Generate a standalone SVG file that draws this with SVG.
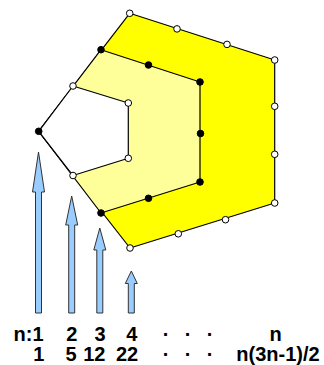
<svg xmlns="http://www.w3.org/2000/svg" width="324" height="365" viewBox="0 0 324 365">
<style>
.edge{stroke:#000;stroke-width:1.2;stroke-linejoin:round}
.w{fill:#fff;stroke:#000;stroke-width:1}
.b{fill:#000;stroke:#000;stroke-width:1}
.arr{fill:#99ccff;stroke:#333;stroke-width:1;stroke-linejoin:miter}
.t{font-family:"Liberation Sans",Arial,sans-serif;font-weight:bold;font-size:20px;fill:#000}
</style>
<rect width="324" height="365" fill="#fff"/>
<g id="pentagon4">
<polygon points="38.7,131.3 129.7,13.3 274.7,60 274.7,203 130,248" style="fill:#ffff00" class="edge"/>
</g>
<g id="pentagon3">
<polygon points="38.7,131.3 101,49.7 200,82 200,182 101,213" style="fill:#ffff99" class="edge"/>
</g>
<g id="pentagon2">
<polygon points="38.7,131.3 73,86 128.3,103 128.3,158.3 73,175.5" style="fill:#ffffff" class="edge"/>
</g>
<g id="dots4">
<circle class="w" cx="129.7" cy="13.3" r="3.3"/>
<circle class="w" cx="177" cy="28.9" r="3.3"/>
<circle class="w" cx="227" cy="44.4" r="3.3"/>
<circle class="w" cx="274.7" cy="60" r="3.3"/>
<circle class="w" cx="274.7" cy="106.3" r="3.3"/>
<circle class="w" cx="274.7" cy="154.3" r="3.3"/>
<circle class="w" cx="274.7" cy="203" r="3.3"/>
<circle class="w" cx="225.5" cy="219.7" r="3.3"/>
<circle class="w" cx="178.3" cy="233.8" r="3.3"/>
<circle class="w" cx="130" cy="248" r="3.3"/>
</g>
<g id="dots3">
<circle class="b" cx="101" cy="49.7" r="3.3"/>
<circle class="b" cx="148.5" cy="65" r="3.3"/>
<circle class="b" cx="200" cy="82" r="3.3"/>
<circle class="b" cx="200.5" cy="133.5" r="3.3"/>
<circle class="b" cx="200" cy="182" r="3.3"/>
<circle class="b" cx="148.5" cy="198.3" r="3.3"/>
<circle class="b" cx="101" cy="213" r="3.3"/>
</g>
<g id="dots2">
<circle class="w" cx="73" cy="86" r="3.3"/>
<circle class="w" cx="128.3" cy="103" r="3.3"/>
<circle class="w" cx="128.3" cy="158.3" r="3.3"/>
<circle class="w" cx="73" cy="175.5" r="3.3"/>
<circle class="b" cx="38.7" cy="131.3" r="3.3"/>
</g>
<g id="arrows">
<polygon class="arr" points="38.5,152 44.5,192 41.5,192 41.5,313 35.5,313 35.5,192 32.5,192"/>
<polygon class="arr" points="71.7,196 77.7,225 74.7,225 74.7,313 68.7,313 68.7,225 65.7,225"/>
<polygon class="arr" points="99.8,228 105.8,250 102.8,250 102.8,313 96.8,313 96.8,250 93.8,250"/>
<polygon class="arr" points="131.3,271 137.3,283.5 134.3,283.5 134.3,313 128.3,313 128.3,283.5 125.3,283.5"/>
</g>
<g id="labels">
<text class="t" x="13.5" y="341">n:1</text>
<text class="t" x="71.7" y="341" text-anchor="middle">2</text>
<text class="t" x="100" y="341" text-anchor="middle">3</text>
<text class="t" x="131.7" y="341" text-anchor="middle">4</text>
<text class="t" x="166" y="341" text-anchor="middle">·</text>
<text class="t" x="188" y="341" text-anchor="middle">·</text>
<text class="t" x="210" y="341" text-anchor="middle">·</text>
<text class="t" x="275.5" y="341" text-anchor="middle">n</text>
<text class="t" x="38.8" y="361" text-anchor="middle">1</text>
<text class="t" x="71" y="361" text-anchor="middle">5</text>
<text class="t" x="94.3" y="361" text-anchor="middle">12</text>
<text class="t" x="127" y="361" text-anchor="middle">22</text>
<text class="t" x="166" y="361" text-anchor="middle">·</text>
<text class="t" x="188" y="361" text-anchor="middle">·</text>
<text class="t" x="210" y="361" text-anchor="middle">·</text>
<text class="t" x="278" y="361" text-anchor="middle">n(3n-1)/2</text>
</g>
</svg>
